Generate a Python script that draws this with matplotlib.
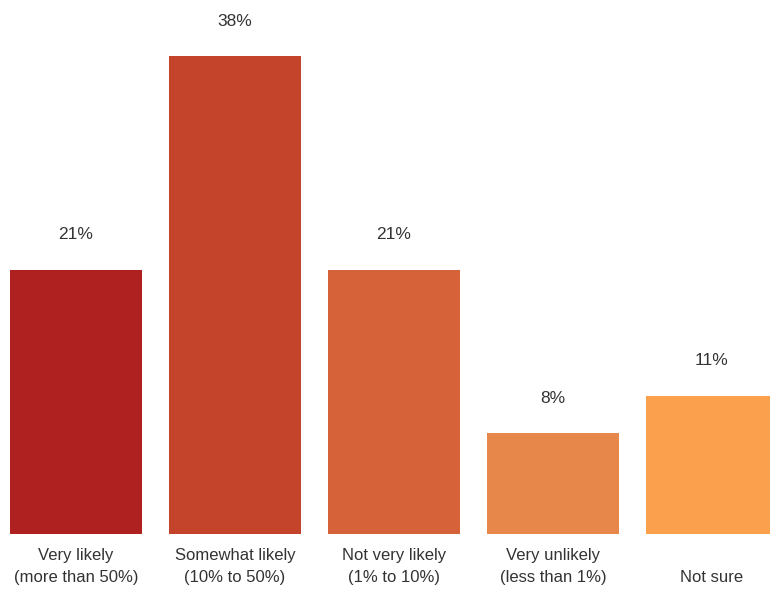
import matplotlib
matplotlib.use("Agg")
from matplotlib import pyplot as plt

categories = ["Very likely\n(more than 50%)", "Somewhat likely\n(10% to 50%)",
              "Not very likely\n(1% to 10%)", "Very unlikely\n(less than 1%)", "\nNot sure"]
values = [21, 38, 21, 8, 11]
colors = ["#AF2020", "#C4432B", "#D6623A", "#E8874A", "#FBA14E"]

plt.rcParams['font.family'] = ['Liberation Sans', 'DejaVu Sans']

fig = plt.figure(figsize=(7.7, 5.91), dpi=100)
# axes fill the width; bottom edge sits at the bar baseline
ax = fig.add_axes([0, 1 - 534 / 591, 1, 534 / 591])

x = list(range(len(values)))
ax.bar(x, values, width=0.83, color=colors)

for xi, v in zip(x, values):
    ax.annotate(f"{v}%", (xi, v), xytext=(0, 20), textcoords="offset points",
                ha="center", va="bottom", fontsize=12.5, color="#333333")

ax.set_xlim(-76 / 159, (770 - 76) / 159)
ax.set_ylim(0, 534 / 12.57)
ax.set_xticks(x)
ax.set_xticklabels(categories, fontsize=12, color="#333333", linespacing=1.6)
ax.tick_params(axis="x", length=0, pad=10)
ax.set_yticks([])
for s in ax.spines.values():
    s.set_visible(False)

fig.savefig("out.png", dpi=100)
